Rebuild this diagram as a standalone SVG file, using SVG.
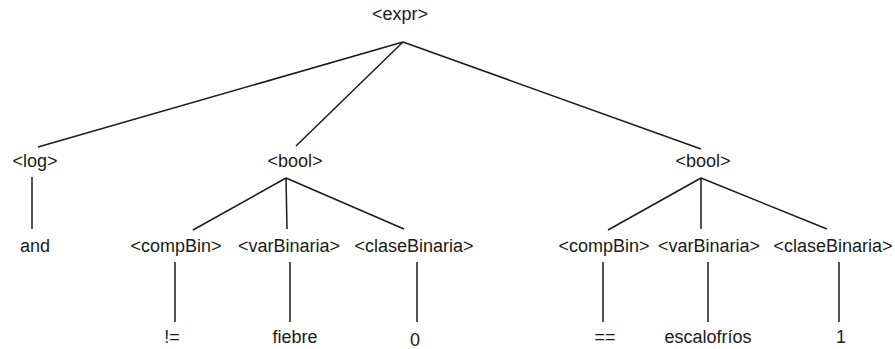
<svg xmlns="http://www.w3.org/2000/svg" width="895" height="349" viewBox="0 0 895 349">
<style>
text{font-family:"Liberation Sans",Arial,sans-serif;font-size:18px;fill:#1a1a1a;text-anchor:middle}
.c line{stroke:#1a1a1a;stroke-width:1.5}
</style>
<rect width="895" height="349" fill="#fff"/>
<g class="c" id="connectors">
<line x1="403" y1="42" x2="38" y2="147"/>
<line x1="403" y1="42" x2="296" y2="146"/>
<line x1="403" y1="42" x2="701" y2="149"/>
<line x1="32" y1="177" x2="32" y2="229"/>
<line x1="286" y1="178" x2="193" y2="230"/>
<line x1="286" y1="178" x2="287" y2="229"/>
<line x1="286" y1="178" x2="404" y2="229"/>
<line x1="701" y1="178" x2="608" y2="230"/>
<line x1="701" y1="178" x2="701" y2="229"/>
<line x1="701" y1="178" x2="827" y2="229"/>
<line x1="175" y1="262" x2="175" y2="322"/>
<line x1="290" y1="262" x2="290" y2="322"/>
<line x1="417" y1="262" x2="417" y2="322"/>
<line x1="603" y1="262" x2="603" y2="322"/>
<line x1="708" y1="262" x2="708" y2="322"/>
<line x1="839" y1="262" x2="839" y2="322"/>
</g>
<g id="expr"><text x="400" y="20">&lt;expr&gt;</text></g>
<g id="log"><text x="35" y="167">&lt;log&gt;</text></g>
<g id="bool1"><text x="295" y="167">&lt;bool&gt;</text></g>
<g id="bool2"><text x="703" y="167">&lt;bool&gt;</text></g>
<g id="and"><text x="35" y="252">and</text></g>
<g id="compBin1"><text x="176" y="252">&lt;compBin&gt;</text></g>
<g id="varBinaria1"><text x="289" y="252">&lt;varBinaria&gt;</text></g>
<g id="claseBinaria1"><text x="414" y="252">&lt;claseBinaria&gt;</text></g>
<g id="compBin2"><text x="604" y="252">&lt;compBin&gt;</text></g>
<g id="varBinaria2"><text x="709" y="252">&lt;varBinaria&gt;</text></g>
<g id="claseBinaria2"><text x="833" y="252">&lt;claseBinaria&gt;</text></g>
<g id="neq"><text x="172" y="343">!=</text></g>
<g id="fiebre"><text x="295" y="343">fiebre</text></g>
<g id="zero"><text x="415" y="346">0</text></g>
<g id="eq"><text x="605" y="343">==</text></g>
<g id="escalofrios"><text x="708" y="343">escalofríos</text></g>
<g id="one"><text x="841" y="343">1</text></g>
</svg>
